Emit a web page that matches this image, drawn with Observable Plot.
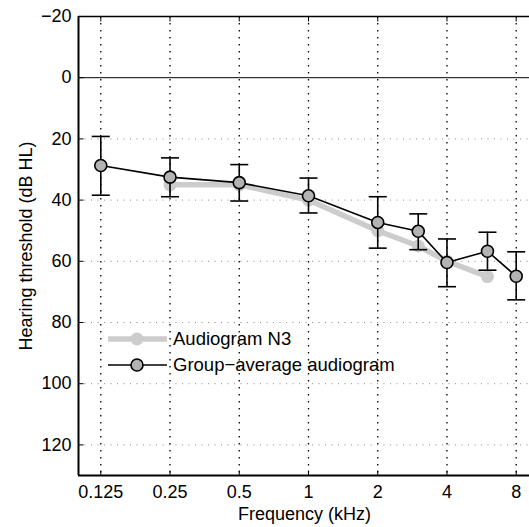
<!DOCTYPE html>
<html>
<head>
<meta charset="utf-8">
<script src="https://cdn.jsdelivr.net/npm/d3@7"></script>
<script src="https://cdn.jsdelivr.net/npm/@observablehq/plot@0.6"></script>
<style>
  html, body { margin: 0; padding: 0; background: white; }
  #wrap { position: relative; width: 529px; height: 527px; overflow: hidden; }
  #legend { position: absolute; left: 0; top: 0; pointer-events: none; }
  text { font-family: "Liberation Sans", Arial, sans-serif; }
</style>
</head>
<body>
<div id="wrap"></div>
<script>
// ---- data ----
const xTicks = [0.125, 0.25, 0.5, 1, 2, 4, 8];
const yTicks = [-20, 0, 20, 40, 60, 80, 100, 120];
const yGrid = [20, 40, 60, 80, 100, 120];

const groupFreq = [0.125, 0.25, 0.5, 1, 2, 3, 4, 6, 8];
const groupMean = [28.7, 32.5, 34.3, 38.6, 47.3, 50.2, 60.4, 56.7, 64.9];
const groupLow  = [19.2, 26.2, 28.4, 32.8, 38.9, 44.5, 52.7, 50.5, 56.9];
const groupHigh = [38.4, 38.9, 40.3, 44.2, 55.7, 56.2, 68.3, 62.9, 72.6];

const n3Freq = [0.25, 0.5, 1, 2, 3, 4, 6];
const n3Level = [35, 35, 40, 50, 55, 60, 65];

const seriesNames = ["Audiogram N3", "Group\u2212average audiogram"];

// ---- tables ----
const group = groupFreq.map((f, i) => ({f, m: groupMean[i], lo: groupLow[i], hi: groupHigh[i]}));
const n3 = n3Freq.map((f, i) => ({f, v: n3Level[i]}));

// custom symbols
const hbar = {draw(ctx, size) { const r = Math.sqrt(size / Math.PI); ctx.moveTo(-r, 0); ctx.lineTo(r, 0); }};
const tickUp = {draw(ctx, size) { const r = Math.sqrt(size / Math.PI); ctx.moveTo(0, 0); ctx.lineTo(0, -r); }};
const tickDown = {draw(ctx, size) { const r = Math.sqrt(size / Math.PI); ctx.moveTo(0, 0); ctx.lineTo(0, r); }};
const tickRight = {draw(ctx, size) { const r = Math.sqrt(size / Math.PI); ctx.moveTo(0, 0); ctx.lineTo(r, 0); }};

const FONT = "'Liberation Sans', Arial, Helvetica, sans-serif";

const chart = Plot.plot({
  width: 529,
  height: 527,
  marginTop: 16,
  marginBottom: 52,
  marginLeft: 78,
  marginRight: -9,
  style: {fontFamily: FONT, fontSize: "18px", background: "white", color: "black"},
  x: {type: "log", domain: [0.1, 10], axis: null},
  y: {domain: [-20, 130], reverse: true, axis: null},
  marks: [
    // grid
    Plot.ruleX(xTicks, {x: d => d, stroke: "black", strokeWidth: 1.3, strokeDasharray: "1.5,5.5"}),
    Plot.ruleY(yGrid, {y: d => d, stroke: "#8a8a8a", strokeWidth: 1, strokeDasharray: "1,5.5"}),
    Plot.ruleY([0], {y: d => d, stroke: "black", strokeWidth: 1}),
    // inward ticks
    Plot.dot(xTicks, {x: d => d, y: () => 130, symbol: tickUp, r: 5, stroke: "black", fill: "none", strokeWidth: 1}),
    Plot.dot(xTicks, {x: d => d, y: () => -20, symbol: tickDown, r: 5, stroke: "black", fill: "none", strokeWidth: 1}),
    Plot.dot(yTicks, {x: () => 0.1, y: d => d, symbol: tickRight, r: 5, stroke: "black", fill: "none", strokeWidth: 1}),
    // N3 audiogram
    Plot.line(n3, {x: "f", y: "v", stroke: "#cccccc", strokeWidth: 5.5, strokeLinejoin: "round"}),
    Plot.dot(n3, {x: "f", y: "v", r: 6.5, fill: "#cccccc", stroke: "none"}),
    // group error bars
    Plot.ruleX(group, {x: "f", y1: "lo", y2: "hi", stroke: "black", strokeWidth: 1.6}),
    Plot.dot(group, {x: "f", y: "lo", symbol: hbar, r: 9, stroke: "black", fill: "none", strokeWidth: 1.6}),
    Plot.dot(group, {x: "f", y: "hi", symbol: hbar, r: 9, stroke: "black", fill: "none", strokeWidth: 1.6}),
    // group line + markers
    Plot.line(group, {x: "f", y: "m", stroke: "black", strokeWidth: 1.6}),
    Plot.dot(group, {x: "f", y: "m", r: 6, fill: "#b3b3b3", stroke: "black", strokeWidth: 1.6}),
    // frame
    Plot.ruleY([-20], {y: d => d, stroke: "black", strokeWidth: 1.3}),
    Plot.ruleY([130], {y: d => d, stroke: "black", strokeWidth: 2}),
    Plot.ruleX([0.1], {x: d => d, stroke: "black", strokeWidth: 2}),
    // axes
    Plot.text(xTicks, {x: d => d, frameAnchor: "bottom", text: d => String(d), lineAnchor: "middle", dy: 17, fontSize: 18}),
    Plot.axisY(yTicks, {tickSize: 0, tickPadding: 7, label: null, fontSize: 18}),
    Plot.text(["Frequency (kHz)"], {frameAnchor: "bottom", text: d => d, lineAnchor: "middle", dy: 39, dx: -4, fontSize: 18}),
    Plot.text(["Hearing threshold (dB HL)"], {frameAnchor: "left", text: d => d, textAnchor: "middle", lineAnchor: "middle", rotate: -90, dx: -52, fontSize: 18})
  ]
});

const wrap = document.getElementById("wrap");
wrap.appendChild(chart);

// legend overlay
const ns = "http://www.w3.org/2000/svg";
const leg = document.createElementNS(ns, "svg");
leg.setAttribute("id", "legend");
leg.setAttribute("width", 529);
leg.setAttribute("height", 527);
const rows = [
  {y: 339, line: {stroke: "#cccccc", w: 5.5}, dot: {fill: "#cccccc", stroke: "none", r: 6.5}},
  {y: 365, line: {stroke: "black", w: 1.6}, dot: {fill: "#b3b3b3", stroke: "black", r: 6}}
];
rows.forEach((row, i) => {
  const l = document.createElementNS(ns, "line");
  l.setAttribute("x1", 108); l.setAttribute("x2", 167);
  l.setAttribute("y1", row.y); l.setAttribute("y2", row.y);
  l.setAttribute("stroke", row.line.stroke); l.setAttribute("stroke-width", row.line.w);
  leg.appendChild(l);
  const c = document.createElementNS(ns, "circle");
  c.setAttribute("cx", 137); c.setAttribute("cy", row.y); c.setAttribute("r", row.dot.r);
  c.setAttribute("fill", row.dot.fill); c.setAttribute("stroke", row.dot.stroke); c.setAttribute("stroke-width", 1.6);
  leg.appendChild(c);
  const t = document.createElementNS(ns, "text");
  t.setAttribute("x", 173); t.setAttribute("y", row.y);
  t.setAttribute("dy", "0.35em");
  t.setAttribute("font-size", 18.5);
  t.setAttribute("font-family", FONT);
  t.textContent = seriesNames[i];
  leg.appendChild(t);
});
wrap.appendChild(leg);
</script>
</body>
</html>
